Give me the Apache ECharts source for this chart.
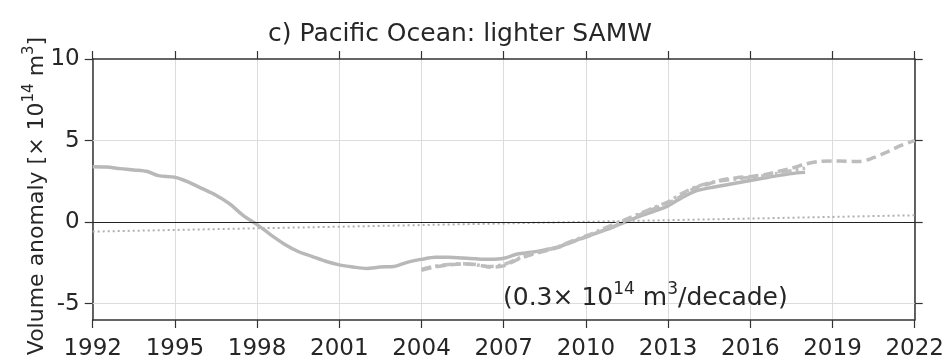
<!DOCTYPE html>
<html>
<head>
<meta charset="utf-8">
<script src="https://cdn.jsdelivr.net/npm/echarts@6/dist/echarts.min.js"></script>
<style>html,body{margin:0;padding:0;background:#fff}#c{width:948px;height:361px}</style>
</head>
<body>
<div id="c"></div>
<script>
// ---- data ----
const solidYears = [1992.0,1992.5,1993.0,1993.5,1994.0,1994.4,1995.0,1995.5,1996.0,1996.5,1997.0,1997.5,1998.0,1998.5,1999.0,1999.5,2000.0,2000.5,2001.0,2001.5,2002.0,2002.5,2003.0,2003.5,2004.0,2004.5,2005.0,2005.5,2006.0,2006.5,2007.0,2007.5,2008.0,2008.5,2009.0,2009.5,2010.0,2010.5,2011.0,2011.5,2012.0,2012.5,2013.0,2013.5,2014.0,2014.5,2015.0,2015.5,2016.0,2016.5,2017.0,2017.5,2018.0];
const solidValues = [3.40,3.38,3.28,3.20,3.10,2.85,2.75,2.45,2.05,1.65,1.12,0.40,-0.15,-0.78,-1.35,-1.80,-2.10,-2.40,-2.62,-2.75,-2.84,-2.75,-2.72,-2.45,-2.28,-2.15,-2.15,-2.20,-2.25,-2.28,-2.22,-1.95,-1.85,-1.70,-1.52,-1.20,-0.90,-0.60,-0.30,0.05,0.38,0.68,1.00,1.50,1.90,2.10,2.25,2.40,2.55,2.70,2.85,2.98,3.05];

const dashedYears = [2004.0,2004.5,2005.0,2005.5,2006.0,2006.5,2007.0,2007.5,2008.0,2008.5,2009.0,2009.5,2010.0,2010.5,2011.0,2011.5,2012.0,2012.5,2013.0,2013.5,2014.0,2014.5,2015.0,2015.5,2016.0,2016.5,2017.0,2017.5,2018.0,2018.5,2019.0,2019.5,2020.0,2020.5,2021.0,2021.5,2022.0];
const dashedValues = [-2.95,-2.75,-2.62,-2.57,-2.60,-2.75,-2.68,-2.30,-2.00,-1.78,-1.55,-1.22,-0.92,-0.60,-0.28,0.12,0.48,0.82,1.15,1.62,2.10,2.35,2.60,2.72,2.80,2.90,3.10,3.30,3.55,3.72,3.75,3.73,3.72,3.95,4.30,4.70,5.00];

const dashDotYears = [2004.0,2004.5,2005.0,2005.5,2006.0,2006.5,2007.0,2007.5,2008.0,2008.5,2009.0,2009.5,2010.0,2010.5,2011.0,2011.5,2012.0,2012.5,2013.0,2013.5,2014.0,2014.5,2015.0,2015.5,2016.0,2016.5,2017.0,2017.5,2018.0];
const dashDotValues = [-2.90,-2.70,-2.60,-2.55,-2.62,-2.72,-2.60,-2.25,-1.95,-1.75,-1.50,-1.15,-0.85,-0.50,-0.15,0.20,0.55,0.90,1.25,1.75,2.15,2.40,2.55,2.65,2.75,2.85,3.00,3.15,3.30];

const trendYears = [1992, 2022];
const trendValues = [-0.58, 0.42];

const yTickValues = [-5, 0, 5, 10];
const yGridValues = [-5, 5];
const titleText = 'c) Pacific Ocean: lighter SAMW';
// ---- end data ----

const zip = (xs, ys) => xs.map((x, i) => [x, ys[i]]);
const FONT = 'DejaVu Sans';
const TXT = '#262626';
const AX = '#333';

const chart = echarts.init(document.getElementById('c'), null, {renderer: 'canvas'});

const xCommon = {
  type: 'value', min: 1992, max: 2022, interval: 3,
  axisLine: {show: true, onZero: false, lineStyle: {color: AX, width: 1.5}},
  axisTick: {show: true, length: 8, lineStyle: {color: AX, width: 1.2}},
};
const yCommon = {
  type: 'value', min: -6, max: 10,
  axisLine: {show: true, onZero: false, lineStyle: {color: AX, width: 1.5}},
  axisTick: {show: true, length: 8, customValues: yTickValues, lineStyle: {color: AX, width: 1.2}},
  splitLine: {show: false}
};

chart.setOption({
  animation: false,
  grid: {left: 92.7, right: 33.3, top: 59, bottom: 35, containLabel: false},
  xAxis: [
    Object.assign({}, xCommon, {
      position: 'bottom',
      axisLabel: {show: true, margin: 18, fontSize: 23, fontFamily: FONT, color: TXT,
        formatter: v => String(Math.round(v))},
      splitLine: {show: true, lineStyle: {color: '#dcdcdc', width: 1}}
    }),
    Object.assign({}, xCommon, {
      position: 'top',
      axisLabel: {show: false},
      splitLine: {show: false}
    })
  ],
  yAxis: [
    Object.assign({}, yCommon, {
      position: 'left',
      axisLabel: {show: true, margin: 13, fontSize: 23, fontFamily: FONT, color: TXT,
        customValues: yTickValues}
    }),
    Object.assign({}, yCommon, {
      position: 'right',
      axisLabel: {show: false}
    })
  ],
  series: [
    {
      name: 'grid', type: 'line', data: [], xAxisIndex: 0, yAxisIndex: 0, z: 1,
      markLine: {
        silent: true, symbol: 'none', label: {show: false}, animation: false,
        lineStyle: {color: '#dcdcdc', width: 1, type: 'solid'},
        data: yGridValues.map(v => ({yAxis: v}))
      }
    },
    {
      name: 'zero', type: 'line', data: [], xAxisIndex: 0, yAxisIndex: 0, z: 2,
      markLine: {
        silent: true, symbol: 'none', label: {show: false}, animation: false,
        lineStyle: {color: '#222', width: 1.2, type: 'solid'},
        data: [{yAxis: 0}]
      }
    },
    {
      name: 'trend', type: 'line', data: zip(trendYears, trendValues), z: 3,
      showSymbol: false, symbol: 'none',
      lineStyle: {color: '#b0b0b0', width: 2, type: [2, 3]}
    },
    {
      name: 'solid', type: 'line', data: zip(solidYears, solidValues), z: 4,
      showSymbol: false, symbol: 'none', smooth: 0.3,
      lineStyle: {color: '#b8b8b8', width: 3.5}
    },
    {
      name: 'dashdot', type: 'line', data: zip(dashDotYears, dashDotValues), z: 5,
      showSymbol: false, symbol: 'none', smooth: 0.3,
      lineStyle: {color: '#c0c0c0', width: 3.5, type: [10, 4, 3, 4]}
    },
    {
      name: 'dashed', type: 'line', data: zip(dashedYears, dashedValues), z: 6,
      showSymbol: false, symbol: 'none', smooth: 0.3,
      lineStyle: {color: '#bdbdbd', width: 3.5, type: [10, 5]}
    }
  ],
  graphic: [
    {
      type: 'text', left: 268, top: 22, z: 100,
      style: {text: titleText, fontSize: 25, fontFamily: FONT, fill: TXT}
    },
    {
      type: 'text', x: 503, y: 281, z: 100,
      style: {
        text: '{m|(0.3× 10}{s|14}{m| m}{s|3}{m|/decade)}',
        fontFamily: FONT, fill: TXT, verticalAlign: 'top', align: 'left',
        rich: {
          m: {fontSize: 25, fontFamily: FONT, color: TXT, lineHeight: 30, verticalAlign: 'bottom'},
          s: {fontSize: 17, fontFamily: FONT, color: TXT, verticalAlign: 'top'}
        }
      }
    },
    {
      type: 'text', x: 35, y: 196, rotation: Math.PI / 2, z: 100,
      style: {
        text: '{m|Volume anomaly [× 10}{s|14}{m| m}{s|3}{m|]}',
        fontFamily: FONT, fill: TXT, align: 'center', verticalAlign: 'middle',
        rich: {
          m: {fontSize: 22, fontFamily: FONT, color: TXT, lineHeight: 27, verticalAlign: 'bottom'},
          s: {fontSize: 15, fontFamily: FONT, color: TXT, verticalAlign: 'top'}
        }
      }
    }
  ]
});
</script>
</body>
</html>
